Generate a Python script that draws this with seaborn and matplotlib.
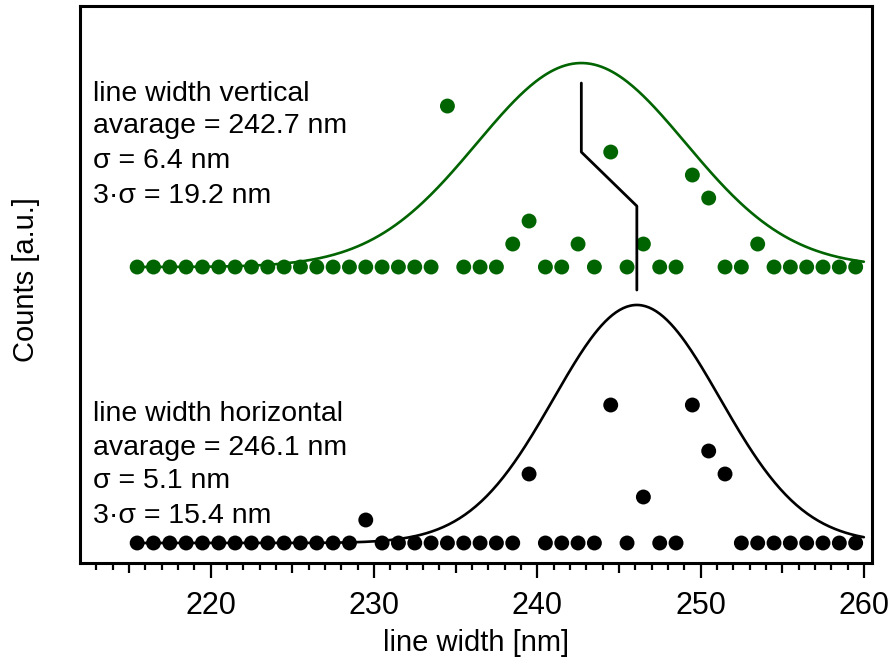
import numpy as np
import pandas as pd
import matplotlib
matplotlib.use("Agg")
import matplotlib.pyplot as plt
import seaborn as sns

# ---- data ----
bin_centers = [215.5 + i for i in range(45)]
vertical_counts = [0] * 19 + [7, 0, 0, 0, 1, 2, 0, 0, 1, 0, 5, 0, 1, 0, 0, 4, 3, 0, 0, 1] + [0] * 6
horizontal_counts = [0] * 14 + [1] + [0] * 9 + [3, 0, 0, 0, 0, 6, 0, 2, 0, 0, 6, 4, 3] + [0] * 8
vertical_offset = 12.0

vert_mean, vert_sigma, vert_amp = 242.7, 6.4, 8.87
horz_mean, horz_sigma, horz_amp = 246.1, 5.1, 10.35

step_x = [242.7, 242.7, 246.1, 246.1]
step_y = [20.0, 17.0, 14.65, 11.0]

vert_text = ["line width vertical", "avarage = 242.7 nm", "\u03c3 = 6.4 nm", "3\u00b7\u03c3 = 19.2 nm"]
horz_text = ["line width horizontal", "avarage = 246.1 nm", "\u03c3 = 5.1 nm", "3\u00b7\u03c3 = 15.4 nm"]
major_ticks = [220, 230, 240, 250, 260]
mid_ticks = [215, 225, 235, 245, 255]
minor_ticks = [v for v in range(213, 260) if v % 5 != 0]

# ---- frames ----
GREEN = "#006400"
pts = pd.DataFrame({
    "x": bin_centers * 2,
    "y": [c + vertical_offset for c in vertical_counts] + list(horizontal_counts),
    "series": ["vertical"] * 45 + ["horizontal"] * 45,
})
xs = np.linspace(215.5, 260.0, 400)
curves = pd.DataFrame({
    "x": np.concatenate([xs, xs]),
    "y": np.concatenate([
        vertical_offset + vert_amp * np.exp(-0.5 * ((xs - vert_mean) / vert_sigma) ** 2),
        horz_amp * np.exp(-0.5 * ((xs - horz_mean) / horz_sigma) ** 2),
    ]),
    "series": ["vertical"] * len(xs) + ["horizontal"] * len(xs),
})
palette = {"vertical": GREEN, "horizontal": "black"}

sns.set_style("white")
plt.rcParams["font.family"] = ["Liberation Sans", "DejaVu Sans"]
plt.rcParams["text.color"] = "black"
plt.rcParams["axes.labelcolor"] = "black"
plt.rcParams["xtick.color"] = "black"
plt.rcParams["xtick.labelcolor"] = "black"

fig = plt.figure(figsize=(8.96, 6.67), dpi=100)
ax = fig.add_axes([80 / 896, 1 - 563 / 667, 792 / 896, 557 / 667])

sns.lineplot(data=curves, x="x", y="y", hue="series", palette=palette, lw=1.9,
             legend=False, ax=ax, zorder=2, sort=False, estimator=None)
ax.plot(step_x, step_y, color="black", lw=2.0, zorder=4)
sns.scatterplot(data=pts, x="x", y="y", hue="series", palette=palette, s=115,
                linewidth=0, legend=False, ax=ax, zorder=3)

ax.set_xlim(212, 260.5)
ax.set_ylim(-0.87, 23.35)

for i, t in enumerate(vert_text):
    ax.text(212.8, [19.23, 17.83, 16.30, 14.78][i], t, fontsize=20.5, va="baseline",
            ha="left", color="black")
for i, t in enumerate(horz_text):
    ax.text(212.8, [5.32, 3.83, 2.39, 0.87][i], t, fontsize=20.5, va="baseline",
            ha="left", color="black")

for s in ax.spines.values():
    s.set_visible(True)
    s.set_linewidth(2.2)
    s.set_color("black")

ax.set_yticks([])
ax.set_xticks(major_ticks)
ax.set_xticks(minor_ticks, minor=True)
ax.tick_params(axis="x", which="major", direction="out", length=11, width=1.6,
               labelsize=22, pad=9, bottom=True, colors="black")
ax.tick_params(axis="x", which="minor", direction="out", length=5, width=1.6,
               bottom=True, colors="black")

sec = ax.secondary_xaxis("bottom")
sec.set_xticks(mid_ticks)
sec.tick_params(axis="x", direction="out", length=7.5, width=1.6, labelbottom=False,
                colors="black")
sec.spines["bottom"].set_visible(False)

ax.set_xlabel("line width [nm]", fontsize=21, color="black")
ax.set_ylabel("Counts [a.u.]", fontsize=21, color="black")
ax.yaxis.set_label_coords(-0.05, 0.508)
ax.xaxis.set_label_coords(0.5, -0.118)

fig.savefig("out.png", dpi=100)
